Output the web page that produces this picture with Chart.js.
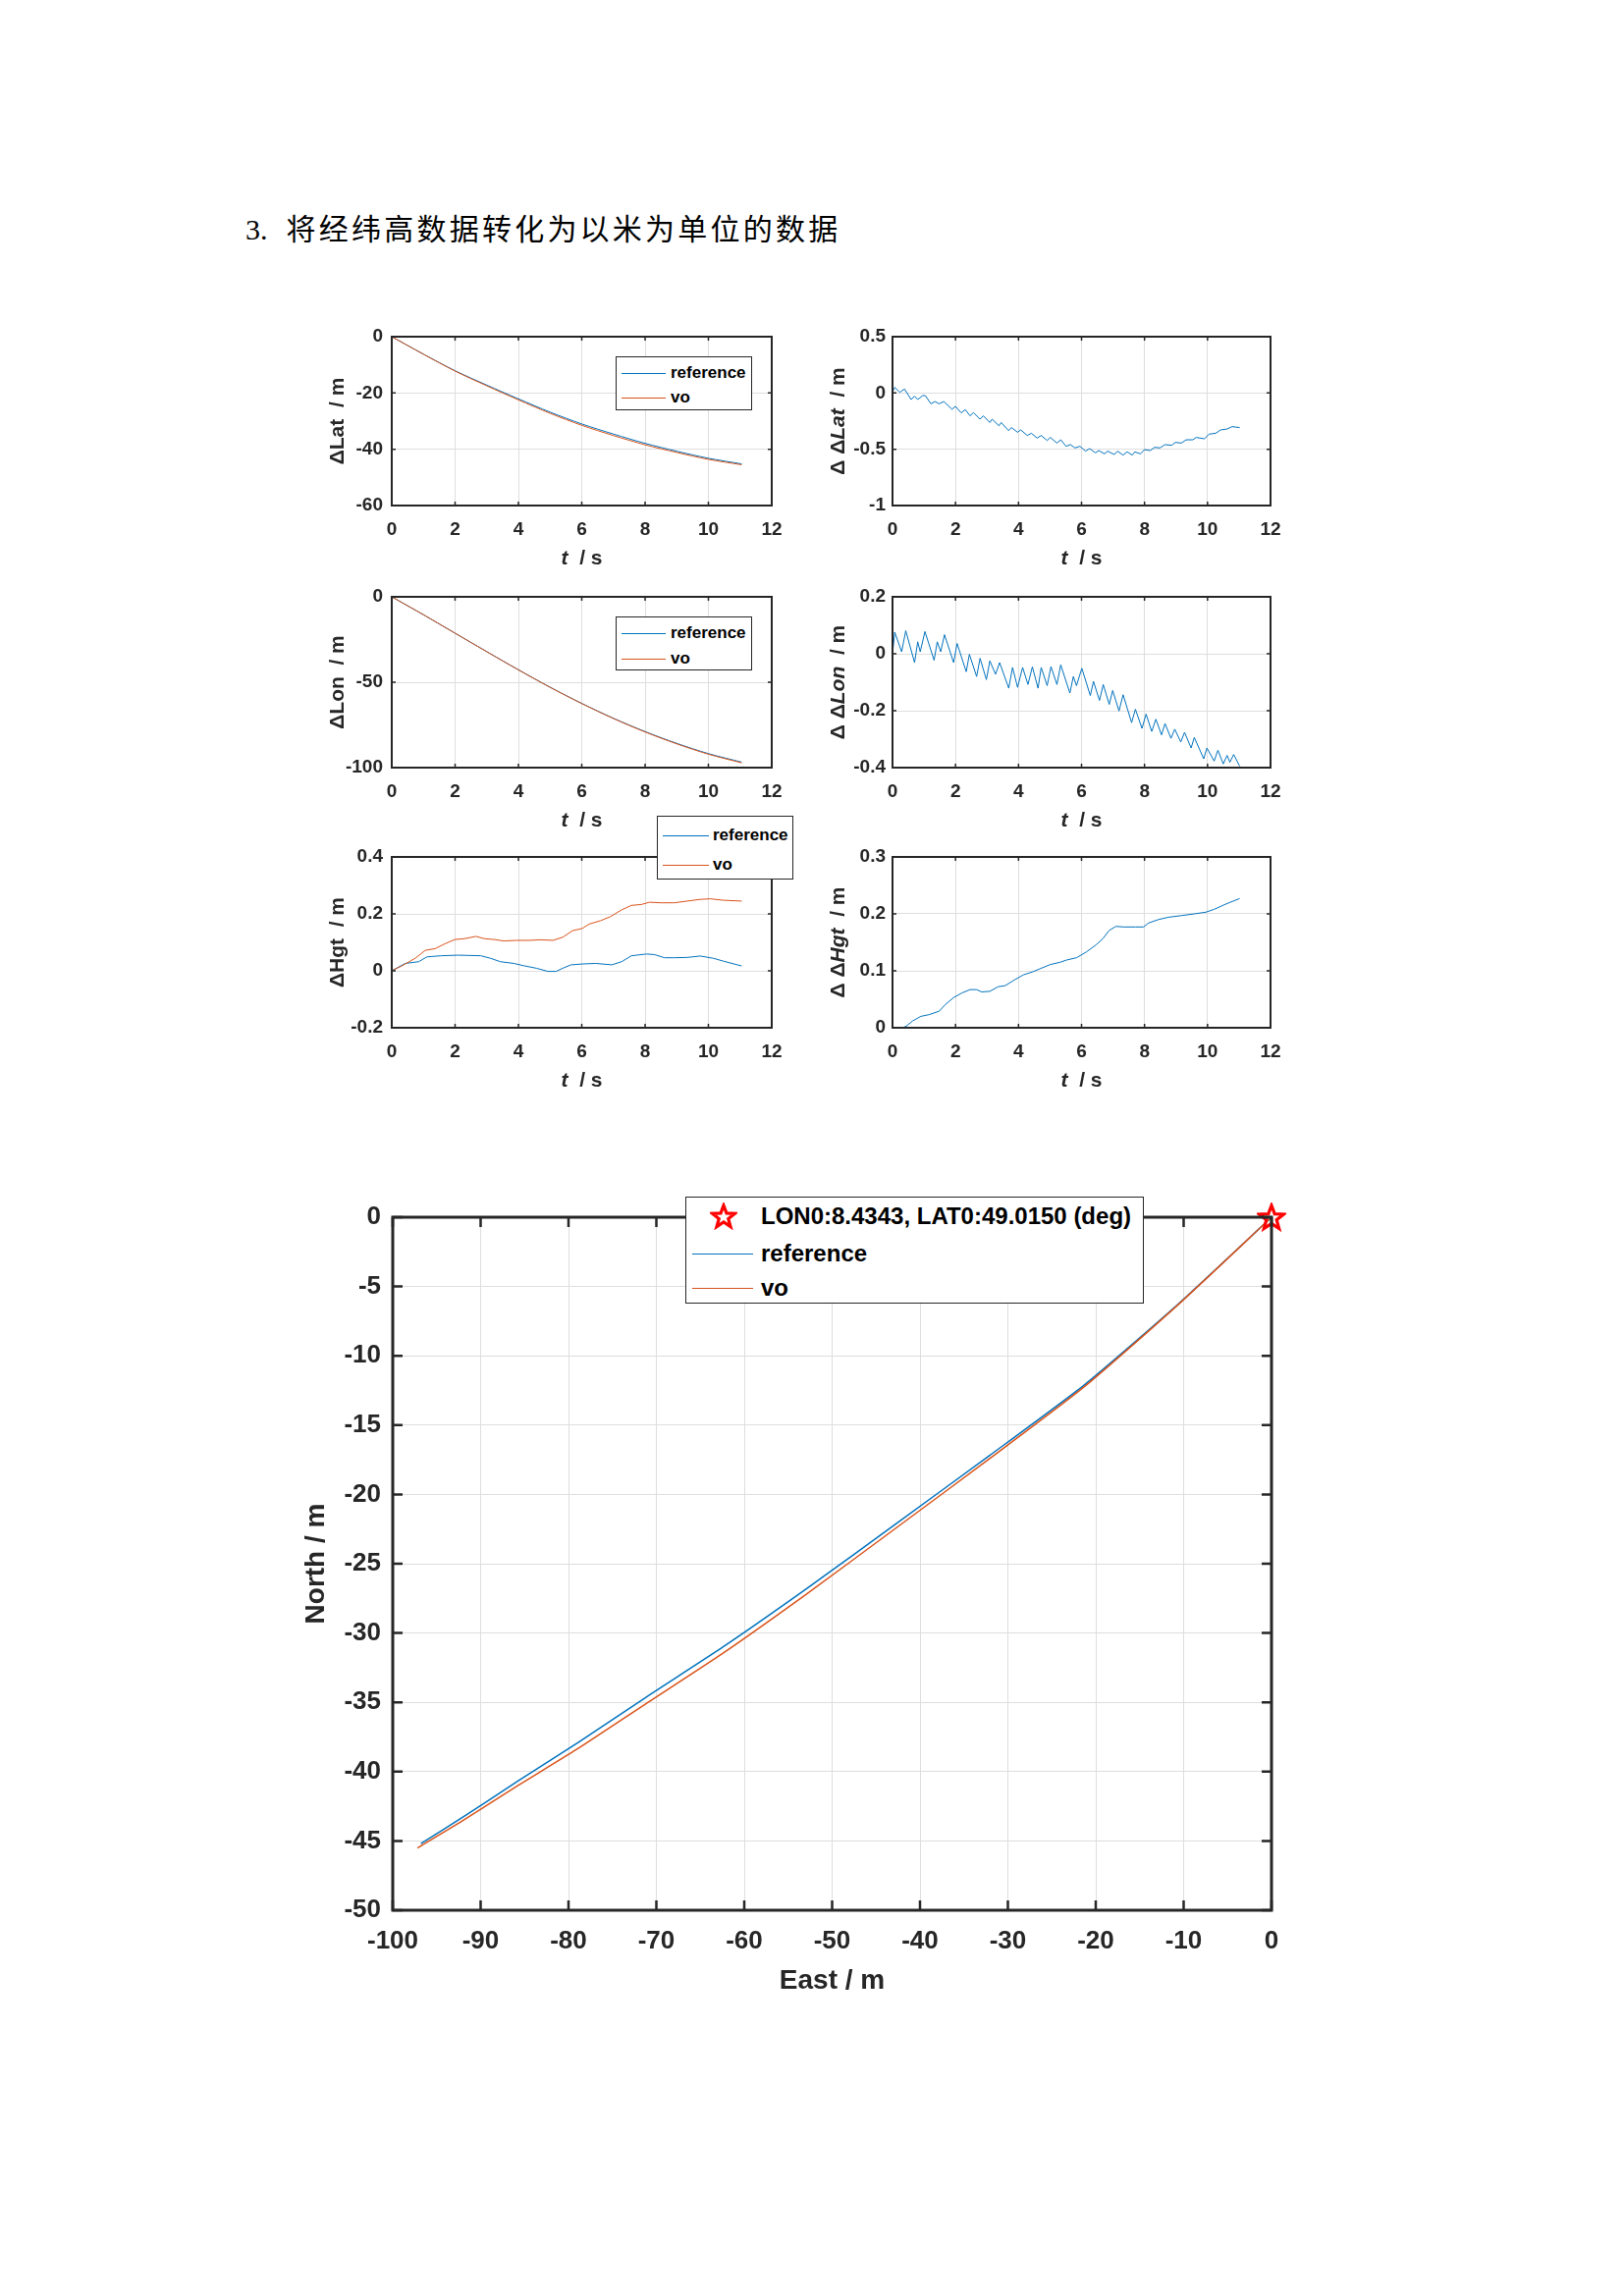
<!DOCTYPE html>
<html>
<head>
<meta charset="utf-8">
<script src="https://cdn.jsdelivr.net/npm/chart.js@4.4.1/dist/chart.umd.min.js"></script>
<style>
body { margin: 0; background: #fff; }
#page { position: relative; width: 1654px; height: 2339px; background: #fff; overflow: hidden; }
canvas { position: absolute; }
.heading { position: absolute; left: 250px; top: 216px; line-height: 30px; color: #000; white-space: nowrap; }
.heading .num { font-family: "Liberation Serif", serif; font-size: 30px; }
.heading .zh { font-family: "Noto Sans CJK SC", sans-serif; font-size: 30px; margin-left: 19px; }
.leg { position: absolute; border: 1px solid #262626; background: #fff; box-sizing: border-box;
       font-family: "Liberation Sans", Arial, sans-serif; font-weight: bold; color: #000; z-index: 5; }
.leg .ln { position: absolute; height: 0; }
.leg .txt { position: absolute; white-space: nowrap; }
</style>
</head>
<body>
<div id="page">
  <div class="heading"><span class="num">3.</span><span class="zh" id="zh">将经纬高数据转化为以米为单位的数据</span></div>
</div>
<script>
// time stamps (s) for the smooth position curves
const tSec = [0, 1, 2, 3, 4, 5, 6, 7, 8, 9, 10, 11.05];

// north (lat) and east (lon) offsets in metres
const latRef = [0, -6.2, -12.1, -17.2, -22.1, -26.8, -31.0, -34.6, -37.9, -40.7, -43.2, -45.2];
const latVo  = [0, -6.22, -12.23, -17.45, -22.45, -27.22, -31.49, -35.13, -38.42, -41.14, -43.59, -45.51];
const lonRef = [0, -10.5, -21.3, -32.1, -42.7, -52.9, -62.4, -71.1, -78.9, -85.8, -91.8, -96.8];
const lonVo  = [0, -10.47, -21.3, -32.15, -42.78, -52.98, -62.5, -71.26, -79.13, -86.09, -92.15, -97.18];

// height offsets [t, m]
const hgtRef = [[0,0],[0.43,0.026],[0.85,0.032],[1.11,0.049],[1.57,0.053],[2.09,0.055],[2.81,0.053],[3.12,0.044],
  [3.43,0.032],[3.85,0.026],[4.16,0.018],[4.57,0.009],[4.93,-0.002],[5.19,-0.002],[5.40,0.009],[5.66,0.021],
  [6.02,0.024],[6.43,0.026],[6.95,0.021],[7.26,0.032],[7.57,0.053],[8.04,0.059],[8.30,0.057],[8.61,0.046],
  [8.92,0.046],[9.33,0.047],[9.74,0.052],[10.16,0.044],[10.47,0.034],[11.05,0.017]];
const hgtVo = [[0,0],[0.33,0.018],[0.74,0.044],[1.06,0.072],[1.37,0.078],[1.68,0.095],[1.99,0.110],[2.30,0.113],
  [2.66,0.121],[2.92,0.113],[3.23,0.110],[3.54,0.105],[3.95,0.107],[4.37,0.107],[4.68,0.109],[5.09,0.107],
  [5.40,0.118],[5.71,0.141],[6.02,0.149],[6.23,0.164],[6.59,0.176],[6.90,0.190],[7.26,0.214],[7.57,0.230],
  [7.88,0.233],[8.14,0.241],[8.50,0.239],[8.92,0.239],[9.33,0.245],[9.74,0.251],[10.06,0.253],[10.47,0.248],[11.05,0.245]];

// differences vo - reference [t, m]
const dLat = [[0,0.01],[0.07,0.05],[0.23,0.006],[0.38,0.035],[0.59,-0.058],[0.70,-0.029],[0.80,-0.058],[0.96,-0.023],
  [1.04,-0.023],[1.22,-0.096],[1.35,-0.076],[1.48,-0.096],[1.63,-0.076],[1.89,-0.145],[2.00,-0.119],[2.18,-0.177],
  [2.31,-0.148],[2.46,-0.203],[2.57,-0.174],[2.78,-0.233],[2.88,-0.203],[3.09,-0.262],[3.16,-0.233],[3.38,-0.291],
  [3.45,-0.262],[3.68,-0.334],[3.78,-0.308],[3.97,-0.349],[4.07,-0.328],[4.28,-0.378],[4.41,-0.358],[4.59,-0.401],
  [4.72,-0.378],[4.91,-0.422],[5.01,-0.395],[5.22,-0.445],[5.34,-0.416],[5.51,-0.474],[5.65,-0.459],[5.79,-0.488],
  [5.95,-0.474],[6.13,-0.517],[6.26,-0.494],[6.44,-0.532],[6.55,-0.512],[6.73,-0.541],[6.83,-0.517],[7.04,-0.547],
  [7.14,-0.517],[7.32,-0.552],[7.45,-0.523],[7.61,-0.552],[7.69,-0.523],[7.87,-0.541],[8.00,-0.503],[8.18,-0.512],
  [8.32,-0.483],[8.49,-0.488],[8.65,-0.459],[8.86,-0.465],[8.98,-0.439],[9.17,-0.445],[9.32,-0.416],[9.53,-0.416],
  [9.64,-0.395],[9.90,-0.407],[10.05,-0.366],[10.26,-0.358],[10.42,-0.328],[10.62,-0.320],[10.78,-0.299],[11.02,-0.308]];
const dLon = [[0,0],[0.07,0.076],[0.29,0.007],[0.42,0.081],[0.70,-0.031],[0.80,0.042],[0.88,0.007],[1.03,0.078],
  [1.32,-0.023],[1.42,0.042],[1.53,0.007],[1.65,0.067],[1.94,-0.031],[2.05,0.036],[2.34,-0.063],[2.44,-0.002],
  [2.67,-0.080],[2.78,-0.016],[2.98,-0.091],[3.09,-0.025],[3.27,-0.072],[3.40,-0.031],[3.69,-0.121],[3.81,-0.048],
  [3.97,-0.118],[4.13,-0.048],[4.30,-0.108],[4.44,-0.046],[4.62,-0.121],[4.72,-0.048],[4.91,-0.112],[5.03,-0.045],
  [5.22,-0.108],[5.34,-0.039],[5.63,-0.138],[5.74,-0.080],[5.84,-0.112],[6.01,-0.051],[6.28,-0.147],[6.38,-0.097],
  [6.57,-0.164],[6.69,-0.108],[6.88,-0.178],[6.99,-0.129],[7.19,-0.201],[7.32,-0.144],[7.59,-0.242],[7.71,-0.195],
  [7.92,-0.262],[8.05,-0.212],[8.23,-0.273],[8.36,-0.230],[8.54,-0.285],[8.65,-0.245],[8.84,-0.297],[8.96,-0.265],
  [9.15,-0.310],[9.27,-0.276],[9.48,-0.331],[9.58,-0.294],[9.88,-0.369],[9.98,-0.331],[10.21,-0.377],[10.33,-0.339],
  [10.50,-0.387],[10.62,-0.357],[10.71,-0.381],[10.83,-0.354],[11.02,-0.395]];
const dHgt = [[0,0],[0.33,0],[0.44,0.003],[0.64,0.012],[0.90,0.020],[1.16,0.023],[1.48,0.029],[1.68,0.041],
  [1.94,0.053],[2.20,0.061],[2.46,0.067],[2.67,0.067],[2.83,0.063],[3.09,0.064],[3.35,0.072],[3.58,0.074],
  [3.87,0.084],[4.16,0.093],[4.44,0.098],[4.70,0.104],[5.01,0.111],[5.32,0.115],[5.53,0.119],[5.84,0.123],
  [6.15,0.133],[6.47,0.146],[6.67,0.156],[6.88,0.171],[7.09,0.178],[7.35,0.177],[7.71,0.177],[7.97,0.177],
  [8.13,0.184],[8.44,0.190],[8.75,0.194],[9.17,0.197],[9.58,0.200],[9.95,0.203],[10.21,0.208],[10.57,0.217],[11.02,0.227]];

// tick values
const tTicks = [0, 2, 4, 6, 8, 10, 12];
const latTicks = [-60, -40, -20, 0];
const dLatTicks = [-1, -0.5, 0, 0.5];
const lonTicks = [-100, -50, 0];
const dLonTicks = [-0.4, -0.2, 0, 0.2];
const hgtTicks = [-0.2, 0, 0.2, 0.4];
const dHgtTicks = [0, 0.1, 0.2, 0.3];
const eastTicks = [-100, -90, -80, -70, -60, -50, -40, -30, -20, -10, 0];
const northTicks = [-50, -45, -40, -35, -30, -25, -20, -15, -10, -5, 0];

const origin = 'LON0:8.4343, LAT0:49.0150 (deg)';
const BLUE = '#0072BD', ORANGE = '#D95319';
const FONT = '"Liberation Sans", Arial, sans-serif';
const page = document.getElementById('page');

Chart.defaults.font.family = FONT;

// stretch the heading to the width it has in the document
const zh = document.getElementById('zh');
zh.style.letterSpacing = ((565 - zh.getBoundingClientRect().width) / zh.textContent.length) + 'px';

const pairs = arr => arr.map(p => ({x: p[0], y: p[1]}));
const zip = (xs, ys) => xs.map((x, i) => ({x: x, y: ys[i]}));

function drawRich(ctx, segs, cx, cy, size, vertical) {
  const fontOf = s => (s[1] ? 'italic ' : '') + 'bold ' + size + 'px ' + FONT;
  let total = 0;
  segs.forEach(s => { ctx.font = fontOf(s); total += ctx.measureText(s[0]).width; });
  ctx.save();
  ctx.translate(cx, cy);
  if (vertical) ctx.rotate(-Math.PI / 2);
  ctx.textBaseline = 'middle';
  ctx.textAlign = 'left';
  ctx.fillStyle = '#262626';
  let x = -total / 2;
  segs.forEach(s => { ctx.font = fontOf(s); ctx.fillText(s[0], x, 0); x += ctx.measureText(s[0]).width; });
  ctx.restore();
}

// matlab style box, inner ticks and axis titles
const boxPlugin = {
  id: 'box',
  afterDraw(chart, args, o) {
    const ctx = chart.ctx, a = chart.chartArea, sx = chart.scales.x, sy = chart.scales.y;
    ctx.save();
    ctx.strokeStyle = '#262626';
    ctx.lineWidth = o.tickWidth;
    ctx.beginPath();
    sx.ticks.forEach(t => {
      const px = sx.getPixelForValue(t.value);
      ctx.moveTo(px, a.bottom); ctx.lineTo(px, a.bottom - o.len);
      ctx.moveTo(px, a.top); ctx.lineTo(px, a.top + o.len);
    });
    sy.ticks.forEach(t => {
      const py = sy.getPixelForValue(t.value);
      ctx.moveTo(a.left, py); ctx.lineTo(a.left + o.len, py);
      ctx.moveTo(a.right, py); ctx.lineTo(a.right - o.len, py);
    });
    ctx.stroke();
    ctx.lineWidth = o.boxWidth;
    ctx.strokeRect(a.left, a.top, a.right - a.left, a.bottom - a.top);
    ctx.restore();
    drawRich(ctx, o.xTitle, (a.left + a.right) / 2, a.bottom + o.xOff, o.titleSize, false);
    drawRich(ctx, o.yTitle, a.left - o.yOff, (a.top + a.bottom) / 2, o.titleSize, true);
  }
};

function axis(min, max, ticks, isX, size, padding, fixed) {
  return {
    type: 'linear', min: min, max: max,
    afterBuildTicks: s => { s.ticks = ticks.map(v => ({value: v})); },
    afterFit: s => { if (isX) s.height = fixed; else s.width = fixed; },
    ticks: {
      color: '#262626', padding: padding, autoSkip: false, maxRotation: 0,
      font: {family: FONT, size: size, weight: 'bold'},
      callback: v => String(Number(v.toFixed(3)))
    },
    grid: {color: '#dedede', lineWidth: 1, drawTicks: false},
    border: {display: false}
  };
}

function line(data, color, width, order, tension) {
  return {data: data, borderColor: color, borderWidth: width, pointRadius: 0, showLine: true,
          tension: tension, order: order, fill: false};
}

function makePlot(area, pad, datasets, xs, ys, box) {
  const cv = document.createElement('canvas');
  const w = area.r - area.l + pad.l + pad.r, h = area.b - area.t + pad.t + pad.b;
  cv.width = w; cv.height = h;
  cv.style.left = (area.l - pad.l) + 'px';
  cv.style.top = (area.t - pad.t) + 'px';
  cv.style.width = w + 'px';
  cv.style.height = h + 'px';
  page.appendChild(cv);
  return new Chart(cv, {
    type: 'scatter',
    data: {datasets: datasets},
    options: {
      responsive: false, animation: false, devicePixelRatio: 1,
      layout: {padding: {left: 0, top: pad.t, right: pad.r, bottom: 0}},
      scales: {x: xs, y: ys},
      plugins: {legend: {display: false}, tooltip: {enabled: false}, box: box}
    },
    plugins: [boxPlugin]
  });
}

function addLegend(o) {
  const d = document.createElement('div');
  d.className = 'leg';
  d.style.left = o.x + 'px'; d.style.top = o.y + 'px';
  d.style.width = o.w + 'px'; d.style.height = o.h + 'px';
  d.style.fontSize = o.font + 'px';
  o.rows.forEach(r => {
    if (r.star) {
      const s = starImage(28, '#ff0000');
      s.style.left = (r.sx - 14) + 'px'; s.style.top = (r.cy - 14) + 'px';
      d.appendChild(s);
    } else {
      const l = document.createElement('div');
      l.className = 'ln';
      l.style.left = o.lineX + 'px'; l.style.width = o.lineW + 'px';
      l.style.top = r.cy + 'px'; l.style.borderTop = '1px solid ' + r.color;
      d.appendChild(l);
    }
    const t = document.createElement('span');
    t.className = 'txt';
    t.textContent = r.label;
    t.style.left = o.textX + 'px';
    t.style.top = (r.cy - o.font * 0.6) + 'px';
    t.style.lineHeight = (o.font * 1.2) + 'px';
    d.appendChild(t);
  });
  page.appendChild(d);
}

function starImage(size, color) {
  const c = document.createElement('canvas');
  c.width = size; c.height = size;
  const g = c.getContext('2d');
  const R = size / 2 - 2, r = R * 0.42, cx = size / 2, cy = size / 2 + 1;
  g.beginPath();
  for (let i = 0; i < 10; i++) {
    const ang = -Math.PI / 2 + i * Math.PI / 5;
    const rad = i % 2 ? r : R;
    g.lineTo(cx + rad * Math.cos(ang), cy + rad * Math.sin(ang));
  }
  g.closePath();
  g.strokeStyle = color;
  g.lineWidth = 3.2;
  g.lineJoin = 'miter';
  g.stroke();
  return c;
}

// ---- six small panels ----
const smallPad = {l: 100, t: 35, r: 40, b: 75};
const tTitle = [['t', true], ['  / s', false]];
const smallBox = (yTitle) => ({len: 4, tickWidth: 1.5, boxWidth: 2, titleSize: 21, xOff: 54, yOff: 55,
  xTitle: tTitle, yTitle: yTitle});
const tAxis = () => axis(0, 12, tTicks, true, 19, 13, smallPad.b);

makePlot({l: 399, t: 343, r: 786, b: 515}, smallPad,
  [line(zip(tSec, latRef), BLUE, 1, 1, 0.3), line(zip(tSec, latVo), ORANGE, 1, 0, 0.3)],
  tAxis(), axis(-60, 0, latTicks, false, 19, 9, smallPad.l), smallBox([['ΔLat  / m', false]]));

makePlot({l: 909, t: 343, r: 1294, b: 515}, smallPad,
  [line(pairs(dLat), BLUE, 1, 0, 0)],
  tAxis(), axis(-1, 0.5, dLatTicks, false, 19, 7, smallPad.l),
  smallBox([['Δ Δ', false], ['Lat', true], ['  / m', false]]));

makePlot({l: 399, t: 608, r: 786, b: 782}, smallPad,
  [line(zip(tSec, lonRef), BLUE, 1, 1, 0.3), line(zip(tSec, lonVo), ORANGE, 1, 0, 0.3)],
  tAxis(), axis(-100, 0, lonTicks, false, 19, 9, smallPad.l), smallBox([['ΔLon  / m', false]]));

makePlot({l: 909, t: 608, r: 1294, b: 782}, smallPad,
  [line(pairs(dLon), BLUE, 1, 0, 0)],
  tAxis(), axis(-0.4, 0.2, dLonTicks, false, 19, 7, smallPad.l),
  smallBox([['Δ Δ', false], ['Lon', true], ['  / m', false]]));

makePlot({l: 399, t: 873, r: 786, b: 1047}, smallPad,
  [line(pairs(hgtRef), BLUE, 1, 1, 0), line(pairs(hgtVo), ORANGE, 1, 0, 0)],
  tAxis(), axis(-0.2, 0.4, hgtTicks, false, 19, 9, smallPad.l), smallBox([['ΔHgt  / m', false]]));

makePlot({l: 909, t: 873, r: 1294, b: 1047}, smallPad,
  [line(pairs(dHgt), BLUE, 1, 0, 0)],
  tAxis(), axis(0, 0.3, dHgtTicks, false, 19, 7, smallPad.l),
  smallBox([['Δ Δ', false], ['Hgt', true], ['  / m', false]]));

// ---- trajectory panel ----
const bigPad = {l: 110, t: 50, r: 50, b: 100};
makePlot({l: 400, t: 1240, r: 1295, b: 1946}, bigPad,
  [
    {data: [{x: lonRef[0], y: latRef[0]}], pointStyle: starImage(30, '#ff0000'), pointRadius: 15,
     showLine: false, clip: false, order: -1},
    line(zip(lonRef, latRef), BLUE, 1.5, 1, 0.2),
    line(zip(lonVo, latVo), ORANGE, 1.5, 0, 0.2)
  ],
  axis(-100, 0, eastTicks, true, 26, 16, bigPad.b),
  axis(-50, 0, northTicks, false, 26, 12, bigPad.l),
  {len: 10, tickWidth: 2.5, boxWidth: 3, titleSize: 28, xOff: 72, yOff: 78,
   xTitle: [['East / m', false]], yTitle: [['North / m', false]]});

// ---- legends ----
const legRows = (a, b) => [{label: 'reference', color: BLUE, cy: a}, {label: 'vo', color: ORANGE, cy: b}];
addLegend({x: 627, y: 363, w: 139, h: 55, font: 17, lineX: 5, lineW: 45, textX: 55, rows: legRows(16, 41)});
addLegend({x: 627, y: 628, w: 139, h: 55, font: 17, lineX: 5, lineW: 45, textX: 55, rows: legRows(16, 42)});
addLegend({x: 669, y: 831, w: 139, h: 65, font: 17, lineX: 5, lineW: 47, textX: 56, rows: legRows(19, 49)});
addLegend({x: 698, y: 1219, w: 467, h: 109, font: 24, lineX: 6, lineW: 62, textX: 76,
  rows: [{label: origin, star: true, sx: 38, cy: 19}, {label: 'reference', color: BLUE, cy: 57},
         {label: 'vo', color: ORANGE, cy: 92}]});
</script>
</body>
</html>
